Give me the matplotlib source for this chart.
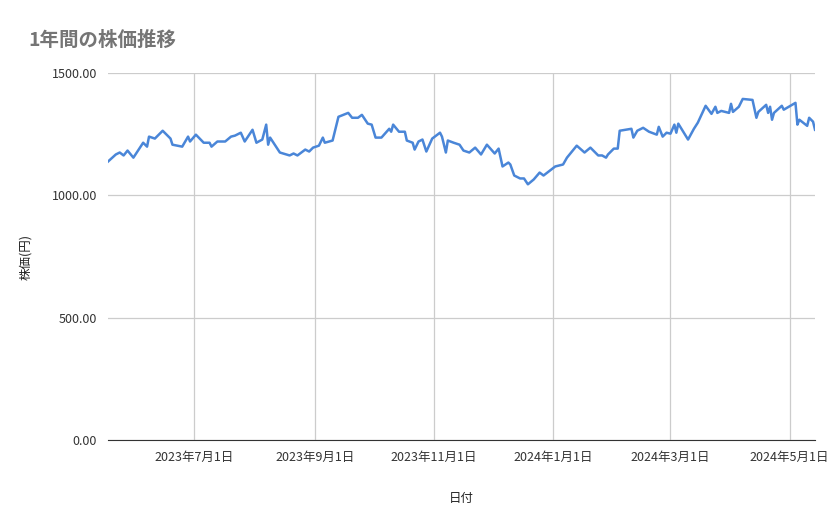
import matplotlib
matplotlib.use("Agg")
import matplotlib.pyplot as plt
import matplotlib.dates as mdates
import numpy as np
import pandas as pd

plt.rcParams['font.family'] = ['Noto Sans CJK JP', 'DejaVu Sans']

start_date = "2023-05-18"
day_offsets = [0,4,6,8,10,13,18,20,21,24,28,32,33,38,41,42,45,49,52,53,56,60,63,65,68,70,74,76,79,81,82,83,87,88,93,95,97,101,103,105,108,110,111,115,118,123,125,128,130,133,135,137,140,144,145,146,149,152,153,156,157,159,161,163,166,170,171,173,174,177,180,182,185,188,191,194,198,200,202,205,206,208,211,213,215,218,221,223,229,233,235,240,244,247,251,253,255,256,259,261,262,268,269,271,274,277,281,282,284,286,288,290,291,292,297,300,302,306,309,311,312,314,318,319,320,323,325,330,332,333,337,338,339,340,341,345,346,352,353,354,358,359,361,362]
prices = [1138,1167,1175,1163,1183,1154,1215,1199,1240,1232,1264,1232,1207,1199,1240,1220,1248,1215,1215,1199,1220,1220,1240,1244,1256,1220,1268,1215,1228,1289,1207,1236,1187,1175,1163,1171,1163,1187,1179,1195,1203,1236,1215,1224,1321,1337,1317,1317,1329,1293,1289,1236,1236,1272,1260,1289,1260,1260,1224,1215,1187,1220,1228,1179,1232,1256,1240,1175,1224,1215,1207,1183,1175,1195,1167,1207,1171,1191,1118,1134,1126,1081,1069,1069,1045,1065,1093,1081,1118,1126,1154,1203,1175,1195,1163,1163,1154,1167,1191,1191,1264,1272,1236,1264,1276,1260,1248,1280,1240,1256,1252,1289,1256,1293,1228,1272,1297,1366,1333,1362,1337,1345,1337,1374,1341,1362,1394,1390,1317,1341,1370,1337,1362,1309,1337,1366,1350,1378,1289,1309,1284,1317,1301,1268]
tick_dates = ["2023-07-01","2023-09-01","2023-11-01","2024-01-01","2024-03-01","2024-05-01"]
tick_labels = ["2023年7月1日","2023年9月1日","2023年11月1日","2024年1月1日","2024年3月1日","2024年5月1日"]
y_ticks = [0, 500, 1000, 1500]

dates = pd.Timestamp(start_date) + pd.to_timedelta(day_offsets, unit="D")

fig = plt.figure(figsize=(8.39, 5.19), dpi=100)
ax = fig.add_axes([108/839, 1-440/519, (815-108)/839, (440-73)/519])
ax.plot(dates, prices, color="#4a86d8", lw=1.8)
ax.set_xlim(dates[0], dates[-1])
ax.set_ylim(0, 1500)
ax.set_yticks(y_ticks)
ax.set_yticklabels([f"{v:.2f}" for v in y_ticks])
ax.set_xticks(pd.to_datetime(tick_dates))
ax.set_xticklabels(tick_labels)
ax.grid(True, color="#cccccc", lw=0.9)
ax.set_axisbelow(True)
for s in ["top", "right", "left"]:
    ax.spines[s].set_visible(False)
ax.spines["bottom"].set_color("#333333")
ax.tick_params(length=0, labelsize=9, colors="#333333", pad=8)
ax.set_ylabel("株価(円)", fontsize=9, color="#222222", labelpad=14)
ax.set_xlabel("日付", fontsize=9, color="#222222", labelpad=20)
fig.text(28/839, 1-40/519, "1年間の株価推移", fontsize=14, color="#757575", fontweight="bold", va="center")
fig.savefig("out.png", dpi=100, facecolor="white")
